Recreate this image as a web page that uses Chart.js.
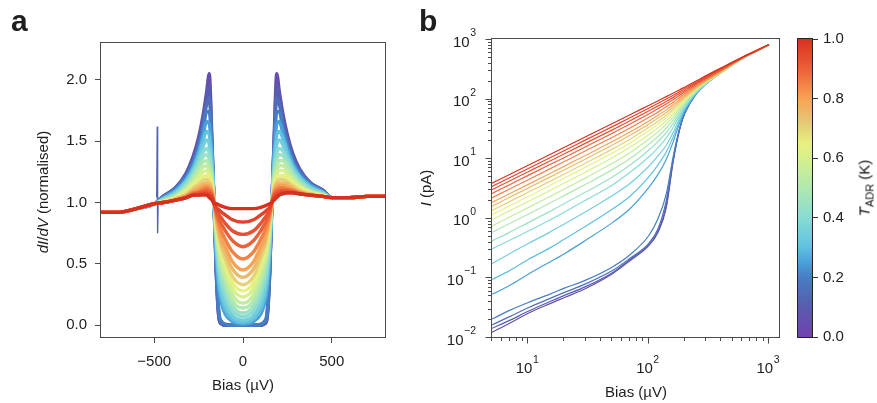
<!DOCTYPE html>
<html><head><meta charset="utf-8">
<script src="https://cdn.jsdelivr.net/npm/chart.js@4.4.1/dist/chart.umd.min.js"></script>
<style>
html,body{margin:0;padding:0;background:#fff;}
#wrap{position:relative;width:877px;height:403px;overflow:hidden;font-family:"Liberation Sans",Arial,sans-serif;color:#1e1e1e;}
canvas{position:absolute;top:0;}
.lbl{position:absolute;font-size:15px;white-space:nowrap;line-height:1;}
.rot{transform:translate(-50%,-50%) rotate(-90deg);}
.ctr{transform:translate(-50%,-50%);}
.pan{position:absolute;font-weight:bold;font-size:30px;line-height:1;}
</style></head><body><div id="wrap">
<canvas id="ca" width="395" height="403" style="left:0"></canvas>
<canvas id="cb" width="390" height="403" style="left:400px"></canvas>
<canvas id="cc" width="87" height="403" style="left:790px"></canvas>
<div class="pan" style="left:11px;top:6px">a</div>
<div class="pan" style="left:419px;top:6px">b</div>
<div class="lbl rot" style="left:42px;top:192px"><i>dI</i>/<i>dV</i> (normalised)</div>
<div class="lbl ctr" style="left:243px;top:384px">Bias (µV)</div>
<div class="lbl rot" style="left:425px;top:188px"><i>I</i> (pA)</div>
<div class="lbl ctr" style="left:636px;top:391px">Bias (µV)</div>
<div class="lbl rot" style="left:866px;top:188px;color:#111"><i>T</i><sub style="font-size:11px">ADR</sub> (K)</div>
</div>
<script>
// ---------------- DATA ----------------
const temps = [0.05,0.10,0.15,0.20,0.25,0.30,0.35,0.40,0.45,0.50,0.55,0.60,0.65,0.70,0.75,0.80,0.85,0.90,0.93,0.96,1.00];

// panel a: bias points (µV)
const biasOuterLeft  = [-800,-700,-600,-500];
const biasCenter = [-450,-380,-320,-280,-250,-225,-205,-190,-175,-162,-150,-135,-120,-100,-60,0,60,100,120,135,150,162,175,190,205,225,250,280,320,380,450];
const biasOuterRight = [500,600,700,800];
const dIdVOuterLeft  = [0.92,0.92,0.95,0.99];
const dIdVOuterRight = [1.04,1.04,1.05,1.05];

const dIdV_005=[1.05,1.12,1.24,1.38,1.53,1.71,1.9,2.05,1.5,0.94,0.4,0.05,0.01,0,0,0,0,0,0.01,0.05,0.4,0.95,1.5,2.05,1.9,1.72,1.55,1.4,1.27,1.16,1.1];
const dIdV_010=[1.05,1.12,1.23,1.36,1.5,1.67,1.86,1.95,1.48,0.95,0.42,0.06,0.01,0,0,0,0,0,0.01,0.06,0.42,0.96,1.48,1.95,1.86,1.68,1.52,1.38,1.26,1.16,1.1];
const dIdV_015=[1.04,1.11,1.22,1.34,1.48,1.63,1.8,1.85,1.45,0.96,0.44,0.08,0.02,0,0,0,0,0,0.02,0.08,0.44,0.97,1.45,1.85,1.8,1.64,1.5,1.36,1.25,1.15,1.09];
const dIdV_020=[1.04,1.11,1.21,1.32,1.45,1.59,1.74,1.74,1.42,0.96,0.46,0.1,0.03,0.01,0,0,0,0.01,0.03,0.1,0.46,0.97,1.42,1.74,1.74,1.6,1.47,1.34,1.24,1.15,1.09];
const dIdV_025=[1.04,1.1,1.19,1.3,1.42,1.55,1.66,1.64,1.38,0.96,0.55,0.28,0.17,0.09,0.03,0.01,0.03,0.09,0.17,0.28,0.55,0.97,1.38,1.64,1.66,1.56,1.44,1.32,1.22,1.14,1.09];
const dIdV_030=[1.03,1.09,1.18,1.28,1.39,1.51,1.58,1.55,1.34,0.96,0.6,0.34,0.22,0.13,0.05,0.02,0.05,0.13,0.22,0.34,0.6,0.97,1.34,1.55,1.58,1.52,1.41,1.3,1.21,1.13,1.08];
const dIdV_035=[1.03,1.08,1.17,1.26,1.36,1.46,1.51,1.47,1.3,0.97,0.64,0.4,0.28,0.18,0.08,0.04,0.08,0.18,0.28,0.4,0.64,0.98,1.3,1.47,1.51,1.47,1.38,1.28,1.2,1.12,1.08];
const dIdV_040=[1.02,1.07,1.15,1.24,1.33,1.41,1.44,1.4,1.26,0.97,0.68,0.46,0.34,0.24,0.12,0.07,0.12,0.24,0.34,0.46,0.68,0.98,1.26,1.4,1.44,1.42,1.35,1.26,1.18,1.11,1.07];
const dIdV_045=[1.02,1.06,1.14,1.22,1.3,1.37,1.39,1.35,1.23,0.97,0.71,0.51,0.4,0.3,0.16,0.1,0.16,0.3,0.4,0.51,0.71,0.98,1.23,1.35,1.39,1.38,1.32,1.24,1.17,1.1,1.07];
const dIdV_050=[1.01,1.05,1.12,1.2,1.27,1.33,1.34,1.3,1.2,0.98,0.74,0.56,0.45,0.35,0.2,0.14,0.2,0.35,0.45,0.56,0.74,0.99,1.2,1.3,1.34,1.34,1.29,1.22,1.15,1.09,1.06];
const dIdV_055=[1.01,1.05,1.11,1.18,1.24,1.29,1.3,1.26,1.18,0.98,0.77,0.6,0.5,0.4,0.25,0.18,0.25,0.4,0.5,0.6,0.77,0.99,1.18,1.26,1.3,1.3,1.26,1.2,1.14,1.09,1.06];
const dIdV_060=[1.01,1.04,1.1,1.16,1.21,1.25,1.26,1.23,1.16,0.98,0.8,0.64,0.54,0.45,0.3,0.23,0.3,0.45,0.54,0.64,0.8,0.99,1.16,1.23,1.26,1.26,1.23,1.18,1.13,1.08,1.06];
const dIdV_065=[1.01,1.04,1.09,1.14,1.18,1.21,1.22,1.2,1.14,0.98,0.82,0.68,0.58,0.5,0.35,0.28,0.35,0.5,0.58,0.68,0.82,0.99,1.14,1.2,1.22,1.22,1.2,1.16,1.12,1.08,1.06];
const dIdV_070=[1.0,1.03,1.07,1.12,1.15,1.18,1.19,1.17,1.12,0.98,0.84,0.71,0.62,0.54,0.4,0.33,0.4,0.54,0.62,0.71,0.84,0.99,1.12,1.17,1.19,1.19,1.17,1.14,1.1,1.07,1.05];
const dIdV_075=[1.0,1.03,1.06,1.1,1.13,1.15,1.16,1.15,1.1,0.98,0.86,0.75,0.66,0.59,0.46,0.39,0.46,0.59,0.66,0.75,0.86,0.99,1.1,1.15,1.16,1.16,1.15,1.12,1.09,1.07,1.05];
const dIdV_080=[1.0,1.02,1.05,1.09,1.11,1.13,1.14,1.13,1.09,0.98,0.88,0.78,0.7,0.64,0.52,0.45,0.52,0.64,0.7,0.78,0.88,0.99,1.09,1.13,1.14,1.14,1.13,1.11,1.08,1.06,1.05];
const dIdV_085=[1.0,1.02,1.05,1.08,1.09,1.11,1.12,1.11,1.08,0.99,0.9,0.82,0.76,0.7,0.6,0.54,0.6,0.7,0.76,0.82,0.9,1.0,1.08,1.11,1.12,1.12,1.11,1.1,1.08,1.06,1.05];
const dIdV_090=[1.0,1.02,1.04,1.07,1.08,1.09,1.1,1.09,1.06,0.99,0.92,0.86,0.82,0.77,0.69,0.64,0.69,0.77,0.82,0.86,0.92,1.0,1.06,1.09,1.1,1.1,1.1,1.09,1.07,1.06,1.05];
const dIdV_093=[1.0,1.02,1.04,1.06,1.07,1.08,1.08,1.07,1.05,0.99,0.94,0.9,0.87,0.83,0.77,0.74,0.77,0.83,0.87,0.9,0.94,1.0,1.05,1.07,1.08,1.09,1.09,1.08,1.07,1.06,1.05];
const dIdV_096=[1.0,1.02,1.04,1.06,1.06,1.07,1.07,1.06,1.04,0.99,0.96,0.94,0.92,0.9,0.86,0.84,0.86,0.9,0.92,0.94,0.96,1.0,1.04,1.06,1.07,1.08,1.08,1.08,1.07,1.06,1.05];
const dIdV_100=[1.0,1.02,1.04,1.06,1.06,1.06,1.06,1.04,1.02,0.99,0.99,0.98,0.97,0.96,0.95,0.95,0.95,0.96,0.97,0.98,0.99,1.0,1.02,1.04,1.06,1.07,1.08,1.08,1.07,1.06,1.05];
const dIdVCurves=[dIdV_005,dIdV_010,dIdV_015,dIdV_020,dIdV_025,dIdV_030,dIdV_035,dIdV_040,dIdV_045,dIdV_050,dIdV_055,dIdV_060,dIdV_065,dIdV_070,dIdV_075,dIdV_080,dIdV_085,dIdV_090,dIdV_093,dIdV_096,dIdV_100];
// glitch spike in the coldest trace
const spikeBias=[-486,-483,-481,-478];
const spikeDIdV=[1.04,1.62,0.75,1.03];

// panel b: bias (µV) and current (pA)
const biasB=[5,7,10,15,20,30,50,70,100,120,140,160,180,200,250,300,400,600,1000];
const I_005=[0.012,0.017,0.025,0.036,0.046,0.065,0.115,0.19,0.34,0.58,1.47,8.9,29.4,59.7,129,186,284,470,795];
const I_010=[0.014,0.019,0.027,0.039,0.05,0.07,0.12,0.2,0.35,0.6,1.6,9.2,29.7,58.7,126.5,182.7,280,470,795];
const I_015=[0.016,0.022,0.031,0.044,0.056,0.078,0.13,0.21,0.37,0.66,1.94,9.8,30,57.7,123.8,179,276,470,795];
const I_020=[0.02,0.028,0.038,0.052,0.066,0.09,0.15,0.24,0.5,0.98,2.5,10.6,30.5,56.8,121.2,174.9,272,472,796];
const I_025=[0.052,0.073,0.113,0.18,0.25,0.42,0.83,1.42,3.2,5.4,9.5,18.9,37.8,63.4,125.8,178,273,474,797];
const I_030=[0.092,0.13,0.2,0.31,0.44,0.72,1.4,2.3,4.8,7.8,12.7,22.8,41.4,65.7,126,178,273,472,796];
const I_035=[0.17,0.25,0.37,0.57,0.79,1.26,2.36,3.76,7.26,11,16.5,26.9,45.9,69.1,127.5,179,272,472,796];
const I_040=[0.3,0.42,0.6,0.91,1.25,1.98,3.56,5.8,10.5,15.1,21.8,32.8,51.3,73.4,129.7,180.5,272,470,795];
const I_045=[0.41,0.57,0.83,1.27,1.74,2.7,4.83,7.66,13.6,19.2,26.9,38.4,56.6,78,132.7,182,272,470,795];
const I_050=[0.57,0.8,1.15,1.75,2.38,3.66,6.43,9.9,17,23.4,31.8,43.9,61.8,82.4,135.5,183,272,470,795];
const I_055=[0.73,1.03,1.48,2.25,3.04,4.68,8.2,12.4,20.8,27.9,37.2,49.4,67.1,87.2,138.8,185,273,470,795];
const I_060=[0.93,1.31,1.88,2.85,3.84,5.88,10.2,15.2,24.8,32.6,42.5,55.2,72.8,92.4,142.5,188,275,472,796];
const I_065=[1.13,1.59,2.28,3.45,4.64,7.08,12.2,18,28.8,37.3,47.7,60.9,78.2,97.3,145.9,190,277,473,796];
const I_070=[1.33,1.87,2.68,4.05,5.44,8.28,14.2,20.8,32.6,41.7,52.7,66.1,83.2,101.9,149.3,193,278,474,797];
const I_075=[1.57,2.21,3.16,4.77,6.4,9.72,16.6,24.2,37.2,47.1,58.6,72.2,89.2,107.5,153.9,197,282,476,798];
const I_080=[1.81,2.54,3.64,5.49,7.36,11.2,19,27.5,41.8,52.6,64.7,78.7,95.6,113.6,159.1,203,287,478,799];
const I_085=[2.17,3.04,4.35,6.55,8.78,13.3,22.4,32.2,48.2,59.8,72.7,87,103.7,121.4,166.1,210,295,480,800];
const I_090=[2.56,3.59,5.15,7.74,10.3,15.6,26.3,37.5,55.2,68,81.5,96.3,112.9,130.3,174.3,217,302,482,801];
const I_093=[2.96,4.14,5.93,8.91,11.85,17.9,29.9,42.5,61.9,75.5,89.7,104.9,121.3,138.3,181.9,225,310,486,804];
const I_096=[3.36,4.7,6.72,10.1,13.45,20.3,33.9,47.7,69,83.6,98.5,113.9,130.3,147.2,190.3,233,319,490,806];
const I_100=[3.8,5.33,7.62,11.4,15.3,22.9,38.2,53.6,76.8,92.3,107.8,123.8,139.8,156.8,199.3,243,328,496,810];
const ICurves=[I_005,I_010,I_015,I_020,I_025,I_030,I_035,I_040,I_045,I_050,I_055,I_060,I_065,I_070,I_075,I_080,I_085,I_090,I_093,I_096,I_100];

const ticksAx=[-500,0,500];
const ticksAy=[0,0.5,1.0,1.5,2.0];
const ticksCb=[0,0.2,0.4,0.6,0.8,1.0];

// ---------------- STYLE ----------------
const AX='#4a4a4a', TXT='#1e1e1e', FONT='"Liberation Sans", Arial, sans-serif';
const CMAP=[[0,[114,64,176]],[0.1,[88,92,172]],[0.2,[70,126,196]],[0.25,[74,160,216]],[0.3,[96,192,224]],[0.4,[136,220,212]],[0.5,[176,232,176]],[0.6,[214,240,140]],[0.65,[232,240,128]],[0.72,[228,200,120]],[0.8,[248,162,84]],[0.9,[236,96,56]],[1,[216,48,32]]];
function cmap(t){
  for(let i=1;i<CMAP.length;i++){
    if(t<=CMAP[i][0]){const a=CMAP[i-1],b=CMAP[i];const f=(t-a[0])/(b[0]-a[0]);
      const c=a[1].map((v,k)=>Math.round(v+(b[1][k]-v)*f));return `rgb(${c[0]},${c[1]},${c[2]})`;}
  }
  const c=CMAP[CMAP.length-1][1];return `rgb(${c[0]},${c[1]},${c[2]})`;
}
Chart.defaults.font.family=FONT;
Chart.defaults.color=TXT;

const frame={id:'frame',afterDatasetsDraw(chart){const {ctx,chartArea:a}=chart;ctx.save();ctx.strokeStyle=AX;ctx.lineWidth=1;
  ctx.strokeRect(Math.round(a.left)-0.5,Math.round(a.top)-0.5,Math.round(a.right-a.left)+1,Math.round(a.bottom-a.top)+1);ctx.restore();}};

// ---------------- PANEL A ----------------
const biasA=[...biasOuterLeft,...biasCenter,...biasOuterRight];
const dsA=dIdVCurves.map((c,i)=>({data:[...dIdVOuterLeft,...c,...dIdVOuterRight].map((y,j)=>({x:biasA[j],y})),
  borderColor:cmap(temps[i]),borderWidth:3.4,order:temps.length-i}));
dsA.push({data:spikeDIdV.map((y,j)=>({x:spikeBias[j],y})),borderColor:cmap(0.12),borderWidth:1.4,cubicInterpolationMode:'default',tension:0,order:100});
const tickFont={family:FONT,size:15};
new Chart(document.getElementById('ca'),{
  type:'line',data:{datasets:dsA},
  options:{responsive:false,animation:false,devicePixelRatio:1,
    layout:{padding:{top:43,right:10,left:0,bottom:0}},
    plugins:{legend:{display:false},tooltip:{enabled:false}},
    elements:{point:{radius:0},line:{cubicInterpolationMode:'monotone'}},
    scales:{
      x:{type:'linear',min:-800,max:800,afterBuildTicks:s=>{s.ticks=ticksAx.map(v=>({value:v}));},
        ticks:{font:tickFont,color:TXT,padding:10,maxRotation:0,callback:v=>v<0?'\u2212'+Math.abs(v):String(v)},
        grid:{drawOnChartArea:false,drawTicks:true,tickLength:6,color:AX},border:{display:false},
        afterFit:s=>{s.height=66;}},
      y:{type:'linear',min:-0.096,max:2.30,afterBuildTicks:s=>{s.ticks=ticksAy.map(v=>({value:v}));},
        ticks:{font:tickFont,color:TXT,padding:8,callback:v=>Number(v).toFixed(1)},
        grid:{drawOnChartArea:false,drawTicks:true,tickLength:6,color:AX},border:{display:false},
        afterFit:s=>{s.width=101;}}
    }},
  plugins:[frame]
});

// ---------------- PANEL B ----------------
const dsB=ICurves.map((c,i)=>({data:c.map((y,j)=>({x:biasB[j],y})),borderColor:cmap(temps[i]),borderWidth:1.2,order:temps.length-i}));
function drawPow(ctx,x,y,exp,mode){
  const base='10', e=exp<0?'\u2212'+Math.abs(exp):String(exp);
  ctx.font='15px '+FONT;const wb=ctx.measureText(base).width;
  ctx.font='10.5px '+FONT;const we=ctx.measureText(e).width;
  const tot=wb+we+0.5;let x0=mode==='right'?x-tot:x-tot/2-1;
  ctx.fillStyle=TXT;ctx.textAlign='left';ctx.textBaseline='alphabetic';
  ctx.font='15px '+FONT;ctx.fillText(base,x0,y);
  ctx.font='10.5px '+FONT;ctx.fillText(e,x0+wb+0.5,y-10.5);
}
const logAxes={id:'logAxes',afterDatasetsDraw(chart){
  const {ctx,chartArea:a,scales:{x,y}}=chart;ctx.save();ctx.strokeStyle=AX;ctx.lineWidth=1;
  ctx.strokeRect(Math.round(a.left)-0.5,Math.round(a.top)-0.5,Math.round(a.right-a.left)+1,Math.round(a.bottom-a.top)+1);
  ctx.beginPath();
  for(let e=-2;e<=3;e++){for(let m=1;m<=9;m++){const v=m*Math.pow(10,e);if(v>1000.001)break;
    const p=Math.round(y.getPixelForValue(v))+0.5;const L=m===1?6:3.5;ctx.moveTo(a.left-0.5-L,p);ctx.lineTo(a.left-0.5,p);}}
  for(let e=0;e<=3;e++){for(let m=1;m<=9;m++){const v=m*Math.pow(10,e);if(v<4.99||v>x.max)continue;
    const p=Math.round(x.getPixelForValue(v))-0.5;const L=m===1?6:3.5;ctx.moveTo(p,a.bottom+0.5);ctx.lineTo(p,a.bottom+0.5+L);}}
  ctx.stroke();
  for(let e=-2;e<=3;e++){const p=y.getPixelForValue(Math.pow(10,e));drawPow(ctx,a.left-16,p+7.5,e,'right');}
  for(let e=1;e<=3;e++){const p=x.getPixelForValue(Math.pow(10,e));drawPow(ctx,p,a.bottom+36,e,'center');}
  ctx.restore();}};
new Chart(document.getElementById('cb'),{
  type:'line',data:{datasets:dsB},
  options:{responsive:false,animation:false,devicePixelRatio:1,
    layout:{padding:{top:39,right:11,left:0,bottom:0}},
    plugins:{legend:{display:false},tooltip:{enabled:false}},
    elements:{point:{radius:0},line:{cubicInterpolationMode:'monotone'}},
    scales:{
      x:{type:'logarithmic',min:5,max:1210,ticks:{display:false},grid:{display:false},border:{display:false},afterFit:s=>{s.height=66;}},
      y:{type:'logarithmic',min:0.01,max:1000,ticks:{display:false},grid:{display:false},border:{display:false},afterFit:s=>{s.width=92;}}
    }},
  plugins:[logAxes]
});

// ---------------- COLORBAR ----------------
const cbFill={id:'cbFill',beforeDatasetsDraw(chart){
  const {ctx,chartArea:a,scales:{y}}=chart;ctx.save();
  const g=ctx.createLinearGradient(0,y.getPixelForValue(0),0,y.getPixelForValue(1));
  CMAP.forEach(s=>g.addColorStop(s[0],`rgb(${s[1][0]},${s[1][1]},${s[1][2]})`));
  ctx.fillStyle=g;ctx.fillRect(a.left,a.top,a.right-a.left,a.bottom-a.top);
  ctx.strokeStyle='#222';ctx.lineWidth=1;ctx.strokeRect(Math.round(a.left)-0.5,Math.round(a.top)-0.5,Math.round(a.right-a.left)+1,Math.round(a.bottom-a.top)+1);
  ctx.restore();}};
new Chart(document.getElementById('cc'),{
  type:'scatter',data:{datasets:[{data:[]}]},
  options:{responsive:false,animation:false,devicePixelRatio:1,
    layout:{padding:{top:39,left:8,right:0,bottom:66}},
    plugins:{legend:{display:false},tooltip:{enabled:false}},
    scales:{
      x:{display:false,min:0,max:1},
      y:{position:'right',min:0,max:1,afterBuildTicks:s=>{s.ticks=ticksCb.map(v=>({value:v}));},
        ticks:{font:tickFont,color:TXT,padding:5,callback:v=>Number(v).toFixed(1)},
        grid:{drawOnChartArea:false,drawTicks:true,tickLength:6,color:'#333'},border:{display:false},
        afterFit:s=>{s.width=65;}}
    }},
  plugins:[cbFill]
});
</script></body></html>
